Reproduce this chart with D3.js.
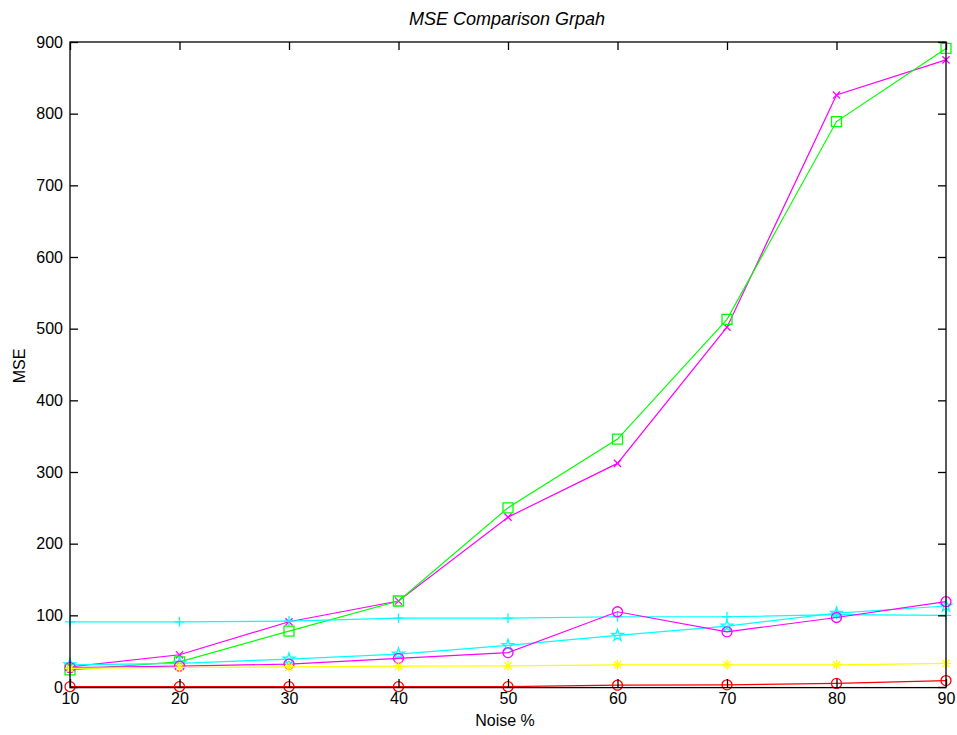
<!DOCTYPE html>
<html>
<head>
<meta charset="utf-8">
<script src="https://cdn.jsdelivr.net/npm/d3@7"></script>
<style>
  body { margin: 0; background: #fff; }
  svg { display: block; font-family: "Liberation Sans", Arial, sans-serif; }
</style>
</head>
<body>
<svg id="chart" width="957" height="735"></svg>
<script>
// Noise levels (x axis)
const noise = [10, 20, 30, 40, 50, 60, 70, 80, 90];
const xTicks = [10, 20, 30, 40, 50, 60, 70, 80, 90];
const yTicks = [0, 100, 200, 300, 400, 500, 600, 700, 800, 900];

// MSE values per filter
const mseMagentaX  = [28, 45, 91, 120, 237, 312, 502, 826, 875];
const mseGreenSq   = [24, 35, 78, 120, 250, 346, 513, 789, 891];
const mseCyanPlus  = [91, 91, 92, 96, 96, 98, 98, 101, 100];
const mseCyanStar  = [31, 33, 39, 46, 58, 72, 85, 103, 113];
const mseMagentaO  = [27, 29, 32, 40, 48, 105, 77, 97, 119];
const mseYellowAst = [26, 27.5, 28, 29, 29.5, 31, 31, 31, 33];
const mseRedO      = [0.5, 0.5, 0.5, 0.5, 0.5, 2.5, 3, 5, 9];

const series = [
  { values: mseMagentaX,  color: "#ff00ff", marker: "x" },
  { values: mseGreenSq,   color: "#00ff00", marker: "square" },
  { values: mseCyanPlus,  color: "#00ffff", marker: "plus" },
  { values: mseCyanStar,  color: "#00ffff", marker: "star" },
  { values: mseMagentaO,  color: "#ff00ff", marker: "circle" },
  { values: mseYellowAst, color: "#ffff00", marker: "asterisk" },
  { values: mseRedO,      color: "#ff0000", marker: "circle" }
];

const svg = d3.select("#chart");
const plotLeft = 70, plotRight = 946, plotTop = 42, plotBottom = 687;

const x = d3.scaleLinear().domain([10, 90]).range([plotLeft, plotRight]);
const y = d3.scaleLinear().domain([0, 900]).range([plotBottom, plotTop]);

// Marker path generator (centred at 0,0)
function markerPath(type) {
  const r = 5;
  switch (type) {
    case "x": {
      const a = 3.6;
      return `M${-a},${-a}L${a},${a}M${-a},${a}L${a},${-a}`;
    }
    case "plus":
      return `M${-r},0L${r},0M0,${-r}L0,${r}`;
    case "asterisk": {
      const a = 3.6;
      return `M${-r},0L${r},0M0,${-r}L0,${r}M${-a},${-a}L${a},${a}M${-a},${a}L${a},${-a}`;
    }
    case "square":
      return `M${-r},${-r}H${r}V${r}H${-r}Z`;
    case "circle":
      return d3.symbol(d3.symbolCircle, Math.PI * r * r)();
    case "star":
      return d3.symbol(d3.symbolStar, 42)();
  }
}

const line = d3.line()
  .x((d, i) => x(noise[i]))
  .y(d => y(d));

const plot = svg.append("g");

series.forEach(s => {
  const g = plot.append("g");
  g.append("path")
    .attr("d", line(s.values))
    .attr("fill", "none")
    .attr("stroke", s.color)
    .attr("stroke-width", 1.2);
  g.selectAll("path.m")
    .data(s.values)
    .join("path")
    .attr("class", "m")
    .attr("transform", (d, i) => `translate(${x(noise[i])},${y(d)})`)
    .attr("d", markerPath(s.marker))
    .attr("fill", "none")
    .attr("stroke", s.color)
    .attr("stroke-width", 1.3);
});

// Axes box with inward ticks on all four sides
const axisG = svg.append("g");
axisG.append("rect")
  .attr("x", plotLeft).attr("y", plotTop)
  .attr("width", plotRight - plotLeft).attr("height", plotBottom - plotTop + 0.6)
  .attr("fill", "none").attr("stroke", "#000").attr("stroke-width", 1.3);

const tickLen = 8;
const xAxisBottom = d3.axisBottom(x).tickValues(xTicks).tickSizeInner(-tickLen).tickSizeOuter(0).tickPadding(6);
const xAxisTop = d3.axisTop(x).tickValues(xTicks).tickSizeInner(-tickLen).tickSizeOuter(0).tickFormat("");
const yAxisLeft = d3.axisLeft(y).tickValues(yTicks).tickSizeInner(-tickLen).tickSizeOuter(0).tickPadding(7);
const yAxisRight = d3.axisRight(y).tickValues(yTicks).tickSizeInner(-tickLen).tickSizeOuter(0).tickFormat("");

function styleAxis(g) {
  g.select(".domain").remove();
  g.selectAll(".tick line").attr("stroke", "#000").attr("stroke-width", 1.3);
  g.selectAll(".tick text").attr("fill", "#000").style("font-size", "16px");
}

axisG.append("g").attr("transform", `translate(0,${plotBottom})`).call(xAxisBottom).call(styleAxis);
axisG.append("g").attr("transform", `translate(0,${plotTop})`).call(xAxisTop).call(styleAxis);
axisG.append("g").attr("transform", `translate(${plotLeft},0)`).call(yAxisLeft).call(styleAxis);
axisG.append("g").attr("transform", `translate(${plotRight},0)`).call(yAxisRight).call(styleAxis);

// Title and axis labels
svg.append("text")
  .attr("x", 507).attr("y", 25)
  .attr("text-anchor", "middle")
  .style("font-size", "18px").style("font-style", "italic")
  .text("MSE Comparison Grpah");

svg.append("text")
  .attr("x", 505).attr("y", 726)
  .attr("text-anchor", "middle")
  .style("font-size", "16px")
  .text("Noise %");

svg.append("text")
  .attr("transform", `translate(25,366) rotate(-90)`)
  .attr("text-anchor", "middle")
  .style("font-size", "16px")
  .text("MSE");
</script>
</body>
</html>
